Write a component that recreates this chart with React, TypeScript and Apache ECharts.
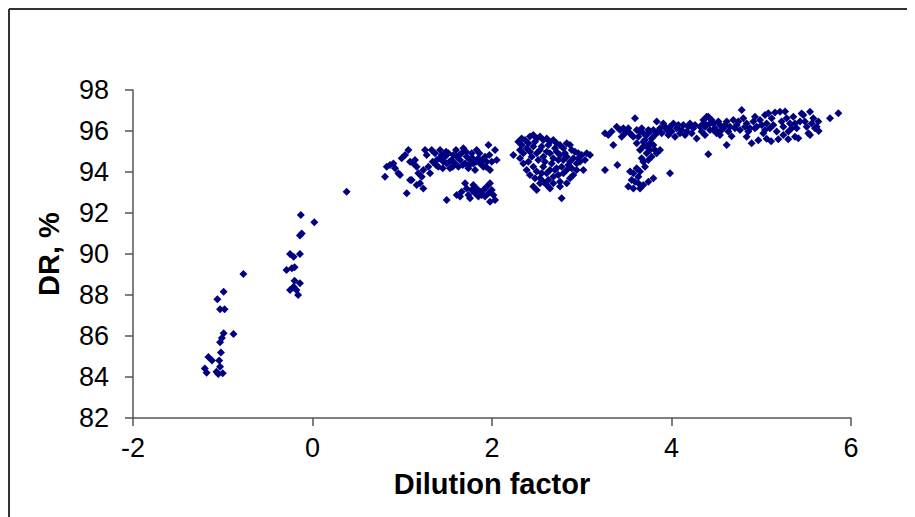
import React, { useEffect, useRef } from "react";
import * as echarts from "echarts";

// Dilution factor vs DR (%)
const lowDilution: [number, number][] = [
  [0.38, 93.04], [-0.13, 91.9], [0.02, 91.55], [-0.14, 90.9], [-0.12, 91.0], [-0.25, 90.0], [-0.21, 89.87],
  [-0.14, 90.0], [-0.29, 89.22], [-0.23, 89.3], [-0.2, 89.35], [-0.2, 88.7], [-0.14, 88.57], [-0.25, 88.24],
  [-0.18, 88.24], [-0.16, 88.0], [-0.21, 88.4], [-0.77, 89.02], [-0.99, 88.16], [-1.06, 87.79], [-1.03, 87.3],
  [-0.98, 87.3], [-0.99, 86.13], [-0.88, 86.1], [-1.01, 85.9], [-1.03, 85.7], [-1.02, 85.2], [-1.16, 84.97],
  [-1.12, 84.8], [-1.04, 84.8], [-1.03, 84.5], [-1.2, 84.42], [-1.18, 84.21], [-1.07, 84.26], [-1.0, 84.18],
  [-1.05, 84.15],
];

const clusterA: [number, number][] = [
  [0.808, 93.77], [0.827, 94.26], [0.864, 94.34], [0.901, 94.42], [0.92, 94.18], [0.957, 93.94], [0.975, 93.85],
  [0.994, 94.67], [1.031, 94.83], [1.068, 95.07], [1.087, 94.5], [1.124, 94.42], [1.142, 94.59], [1.161, 94.26],
  [1.105, 93.61], [1.198, 93.45], [1.18, 93.94], [1.217, 93.77], [1.235, 94.1], [1.254, 95.07], [1.272, 94.83],
  [1.291, 94.26], [1.31, 93.94], [1.328, 95.07], [1.365, 94.91], [1.384, 94.59], [1.402, 94.26], [1.421, 95.07],
  [1.44, 94.83], [1.458, 94.5], [1.477, 94.75], [1.495, 94.42], [1.514, 94.91], [1.532, 94.18], [1.551, 94.59],
  [1.57, 94.83], [1.588, 94.42], [1.607, 94.75], [1.625, 94.26], [1.644, 94.59], [1.662, 94.91], [1.681, 95.16],
  [1.7, 94.42], [1.718, 94.75], [1.737, 94.18], [1.755, 94.59], [1.774, 94.91], [1.792, 94.42], [1.811, 94.1],
  [1.829, 95.07], [1.848, 94.67], [1.867, 94.42], [1.904, 94.26], [1.922, 94.75], [1.941, 94.5], [1.96, 95.32],
  [1.978, 94.1], [2.034, 95.07], [2.052, 94.59], [1.087, 93.61], [1.161, 93.37], [1.235, 93.2], [1.05, 92.96],
  [1.495, 92.63],
  [1.339, 94.5], [1.376, 94.34], [1.414, 94.67], [1.451, 94.18], [1.488, 94.99], [1.525, 94.5], [1.562, 94.26],
  [1.599, 95.07], [1.636, 94.83], [1.674, 94.34], [1.711, 94.99], [1.748, 94.34], [1.785, 94.67], [1.822, 94.5],
  [1.859, 94.91], [1.896, 94.59], [1.933, 94.26], [1.971, 94.83], [1.997, 94.5],
  // lower band
  [1.607, 92.88], [1.644, 92.8], [1.662, 93.04], [1.7, 93.45], [1.718, 93.2], [1.737, 92.88], [1.755, 92.72],
  [1.774, 93.12], [1.792, 93.37], [1.811, 92.96], [1.829, 93.2], [1.848, 92.8], [1.867, 93.04], [1.885, 92.88],
  [1.904, 93.12], [1.922, 92.8], [1.941, 93.28], [1.96, 92.96], [1.978, 93.45], [1.997, 93.12], [2.015, 92.88],
  [1.978, 92.55], [2.034, 92.63],
];

const clusterB: [number, number][] = [
  [2.238, 94.83], [2.293, 95.48], [2.33, 95.64], [2.368, 95.56], [2.423, 95.73], [2.46, 95.81], [2.498, 95.64],
  [2.535, 95.73], [2.572, 95.56], [2.609, 95.64], [2.646, 95.48], [2.683, 95.56], [2.72, 95.4], [2.758, 95.32],
  [2.795, 95.16], [2.832, 95.4], [2.869, 95.32], [2.888, 95.07], [2.925, 94.99], [2.962, 94.91], [2.999, 94.83],
  [3.055, 94.91], [3.092, 94.83],
  [2.312, 95.07], [2.349, 94.91], [2.386, 95.16], [2.423, 94.99], [2.46, 95.24], [2.498, 94.91], [2.535, 95.07],
  [2.572, 94.75], [2.609, 94.99], [2.646, 94.91], [2.683, 94.67], [2.72, 94.99], [2.758, 94.83], [2.795, 94.59],
  [2.832, 94.75], [2.869, 94.5], [2.906, 94.67], [2.943, 94.42], [2.98, 94.5], [3.018, 94.1], [3.036, 94.59],
  [2.349, 94.42], [2.386, 94.1], [2.423, 93.85], [2.46, 94.26], [2.498, 94.02], [2.535, 93.69], [2.572, 94.26],
  [2.609, 93.94], [2.646, 94.1], [2.683, 93.77], [2.72, 94.18], [2.758, 93.53], [2.795, 93.94], [2.832, 94.1],
  [2.869, 93.69], [2.906, 93.85], [2.943, 94.1],
  [2.46, 93.29], [2.498, 93.12], [2.535, 93.45], [2.609, 93.37], [2.646, 93.2], [2.683, 93.45], [2.758, 93.29],
  [2.776, 92.72],
  [2.33, 95.32], [2.405, 95.4], [2.442, 94.75], [2.479, 95.48], [2.516, 94.59], [2.553, 95.24], [2.59, 94.5],
  [2.628, 95.32], [2.665, 94.42], [2.702, 95.16], [2.739, 94.59], [2.776, 94.26], [2.813, 94.91], [2.85, 94.34],
  [2.628, 93.61], [2.702, 94.1], [2.553, 93.94], [2.479, 93.69], [2.739, 93.85], [2.832, 93.45], [2.572, 93.53],
  [2.888, 94.18], [2.962, 94.67], [2.312, 94.67], [2.405, 94.5],
];

const clusterC: [number, number][] = [
  [3.259, 95.89], [3.296, 95.8], [3.333, 95.97], [3.352, 95.32], [3.389, 96.21], [3.426, 96.05], [3.463, 96.13],
  [3.501, 95.97], [3.538, 95.89], [3.575, 95.72], [3.593, 96.62], [3.612, 96.05], [3.649, 95.97], [3.686, 95.89],
  [3.723, 95.8], [3.761, 95.97], [3.798, 96.05], [3.835, 96.46], [3.872, 96.13], [3.909, 96.37], [3.946, 96.05],
  [3.983, 96.21], [4.021, 96.37], [4.058, 96.13], [4.095, 95.89], [4.132, 96.29], [4.169, 95.97], [4.206, 96.37],
  [4.243, 96.13], [4.28, 95.64], [4.318, 96.21], [4.355, 96.37], [4.392, 96.7], [4.429, 96.37], [4.466, 96.05],
  [4.503, 95.89],
  [3.612, 95.4], [3.649, 95.07], [3.686, 95.24], [3.723, 94.91], [3.761, 95.07], [3.798, 95.32], [3.835, 94.91],
  [3.872, 95.07], [3.742, 94.59], [3.705, 94.26], [3.779, 94.75], [3.668, 94.67], [3.649, 94.02], [3.575, 93.94],
  [3.538, 94.02], [3.556, 93.61], [3.593, 93.53], [3.631, 93.45], [3.686, 93.37], [3.742, 93.53], [3.798, 93.69],
  [3.519, 93.29], [3.575, 93.2], [3.649, 93.2],
  [3.259, 94.1], [3.397, 94.34], [3.983, 93.94], [4.373, 95.8],
  [3.445, 95.72], [3.482, 95.89], [3.519, 96.13], [3.556, 95.8], [3.631, 95.72], [3.668, 96.13], [3.705, 95.56],
  [3.742, 96.05], [3.779, 95.64], [3.816, 95.8], [3.853, 95.97], [3.891, 95.89], [3.928, 96.21], [3.965, 95.8],
  [4.002, 95.97], [4.039, 95.72], [4.076, 96.29], [4.113, 96.05], [4.151, 95.8], [4.188, 96.21], [4.225, 95.89],
  [4.262, 96.29], [4.336, 95.97], [3.686, 95.48], [3.761, 95.4], [3.723, 95.24], [3.816, 95.07], [3.686, 94.5],
  [3.631, 93.77], [3.612, 94.18],
];

const clusterD: [number, number][] = [
  [4.355, 96.54], [4.392, 96.29], [4.41, 96.7], [4.429, 96.05], [4.466, 96.37], [4.503, 95.97], [4.54, 96.29],
  [4.577, 96.13], [4.615, 96.46], [4.652, 96.21], [4.689, 96.54], [4.726, 96.29], [4.763, 96.05], [4.782, 97.02],
  [4.8, 96.62], [4.837, 96.37], [4.875, 96.13], [4.893, 95.4], [4.912, 96.46], [4.949, 96.21], [4.986, 96.54],
  [5.023, 95.89], [5.06, 96.37], [5.079, 96.86], [5.097, 96.13], [5.116, 96.62], [5.135, 96.29], [5.172, 95.97],
  [5.209, 96.94], [5.227, 96.46], [5.246, 96.21], [5.283, 96.62], [5.302, 95.97], [5.32, 96.37], [5.357, 96.7],
  [5.395, 96.13], [5.432, 96.46], [5.469, 96.78], [5.506, 96.21], [5.525, 95.89], [5.543, 96.94], [5.58, 96.62],
  [5.617, 96.21], [5.636, 96.46], [5.766, 96.62], [5.859, 96.86], [4.615, 95.32], [4.41, 94.86],
  [4.373, 96.21], [4.447, 96.54], [4.485, 96.13], [4.522, 96.46], [4.559, 96.05], [4.596, 96.29], [4.633, 95.97],
  [4.67, 95.75], [4.707, 96.13], [4.745, 96.46], [4.819, 96.21], [4.856, 95.97], [4.93, 96.13], [4.967, 95.55],
  [5.005, 96.29], [5.042, 96.05], [5.153, 96.9], [5.19, 95.6], [5.265, 96.95], [5.339, 96.13], [5.376, 96.37],
  [5.413, 95.65], [5.45, 96.85], [5.487, 96.46], [5.562, 96.37], [5.599, 96.13], [5.042, 96.78], [4.93, 96.7],
  [4.837, 95.72], [5.06, 95.62], [5.246, 95.81], [5.376, 95.72], [5.543, 95.81], [4.54, 95.81], [5.64, 96.0],
  [5.11, 95.5], [5.3, 95.6],
];

const xTicks = { min: -2, max: 6, interval: 2 };
const yTicks = { min: 82, max: 98, interval: 2 };

const FONT = "'Liberation Sans', Arial, Helvetica, sans-serif";
const AXIS_COLOR = "#555";

export default function App() {
  const ref = useRef<HTMLDivElement>(null);

  useEffect(() => {
    if (!ref.current) return;
    const chart = echarts.init(ref.current, undefined, { renderer: "svg" });
    const axisCommon = {
      type: "value" as const,
      axisLine: { show: true, onZero: false, lineStyle: { color: AXIS_COLOR, width: 1.5 } },
      axisTick: { show: true, inside: false, length: 8, lineStyle: { color: AXIS_COLOR, width: 1.5 } },
      splitLine: { show: false },
      nameLocation: "middle" as const,
      nameTextStyle: { fontSize: 29, fontWeight: "bold" as const, color: "#000", fontFamily: FONT },
    };
    chart.setOption({
      animation: false,
      backgroundColor: "#fff",
      grid: { left: 125, right: 64, top: 82, bottom: 99 },
      xAxis: {
        ...axisCommon,
        ...xTicks,
        name: "Dilution factor",
        nameGap: 51,
        axisLabel: { fontSize: 27, color: "#000", margin: 16, fontFamily: FONT },
      },
      yAxis: {
        ...axisCommon,
        ...yTicks,
        name: "DR, %",
        nameGap: 70,
        nameRotate: 90,
        axisLabel: { fontSize: 27, color: "#000", margin: 24, fontFamily: FONT },
      },
      graphic: [
        { type: "line", shape: { x1: 1, y1: 1, x2: 907, y2: 1 }, style: { stroke: "#333", lineWidth: 2 } },
        { type: "line", shape: { x1: 1, y1: 1, x2: 1, y2: 509 }, style: { stroke: "#333", lineWidth: 2 } },
      ],
      series: [
        {
          type: "scatter",
          symbol: "diamond",
          symbolSize: 8,
          itemStyle: { color: "#000080", opacity: 1 },
          data: [...lowDilution, ...clusterA, ...clusterB, ...clusterC, ...clusterD],
        },
      ],
    });
    return () => chart.dispose();
  }, []);

  return <div ref={ref} style={{ width: 907, height: 509 }} />;
}
